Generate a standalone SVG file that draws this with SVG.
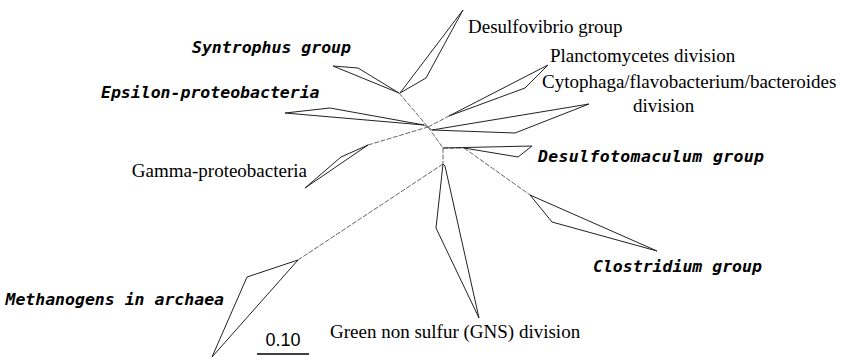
<svg xmlns="http://www.w3.org/2000/svg" width="852" height="362" viewBox="0 0 852 362">
<style>
.w{fill:none;stroke:#222;stroke-width:1;stroke-linejoin:round}
.b{fill:none;stroke:#666;stroke-width:1;stroke-dasharray:5 1.5}
.t{font-family:"Liberation Serif","Times New Roman",serif;font-size:19px;fill:#000}
.m{font-family:"DejaVu Sans Mono","Liberation Mono",monospace;font-size:16.5px;font-weight:bold;font-style:italic;fill:#000}
.s{font-family:"Liberation Sans",Arial,sans-serif;font-size:18px;fill:#000}
</style>
<rect width="852" height="362" fill="#fff"/>
<g id="connectors">
<polyline class="b" points="399,93 428,127"/>
<polyline class="b" points="424,125 428,127"/>
<polyline class="b" points="368,145 428,127"/>
<polyline class="b" points="428,127 449,116"/>
<polyline class="b" points="428,127 432,130"/>
<polyline class="b" points="428,127 443,148"/>
<polyline class="b" points="443,148 464,148"/>
<polyline class="b" points="464,148 530,195"/>
<polyline class="b" points="443,148 443,164"/>
<polyline class="b" points="443,164 298,260"/>
</g>
<g id="desulfovibrio">
<polygon class="w" points="400,93 463,10 451,32 426,78"/>
<text class="t" x="468" y="33">Desulfovibrio group</text>
</g>
<g id="syntrophus">
<polygon class="w" points="399,93 333,66 358,68"/>
<text class="m" x="192" y="53">Syntrophus group</text>
</g>
<g id="planctomycetes">
<polygon class="w" points="449,116 548,65 525,88"/>
<text class="t" x="550" y="62">Planctomycetes division</text>
</g>
<g id="epsilon">
<polygon class="w" points="424,125 285,113 330,108"/>
<text class="m" x="101" y="98">Epsilon-proteobacteria</text>
</g>
<g id="cytophaga">
<polygon class="w" points="432,130 589,104 515,133"/>
<text class="t" x="542" y="88">Cytophaga/flavobacterium/bacteroides</text>
<text class="t" x="633" y="112">division</text>
</g>
<g id="gamma">
<polygon class="w" points="368,145 305,188 341,157"/>
<text class="t" x="307" y="177" text-anchor="end">Gamma-proteobacteria</text>
</g>
<g id="desulfotomaculum">
<polyline class="w" points="443,148 532,146 518,157 464,148"/>
<text class="m" x="538" y="162" textLength="226">Desulfotomaculum group</text>
</g>
<g id="clostridium">
<polygon class="w" points="530,195 657,251 552,222"/>
<text class="m" x="593" y="272">Clostridium group</text>
</g>
<g id="methanogens">
<polygon class="w" points="298,260 212,357 247,277"/>
<text class="m" x="224" y="305" text-anchor="end">Methanogens in archaea</text>
</g>
<g id="gns">
<polygon class="w" points="443,164 436,228 479,318 445,166"/>
<text class="t" x="330" y="338">Green non sulfur (GNS) division</text>
</g>
<g id="scale">
<text class="s" x="283" y="346" text-anchor="middle">0.10</text>
<line x1="257" y1="354" x2="309" y2="354" stroke="#000" stroke-width="1.5"/>
</g>
</svg>
